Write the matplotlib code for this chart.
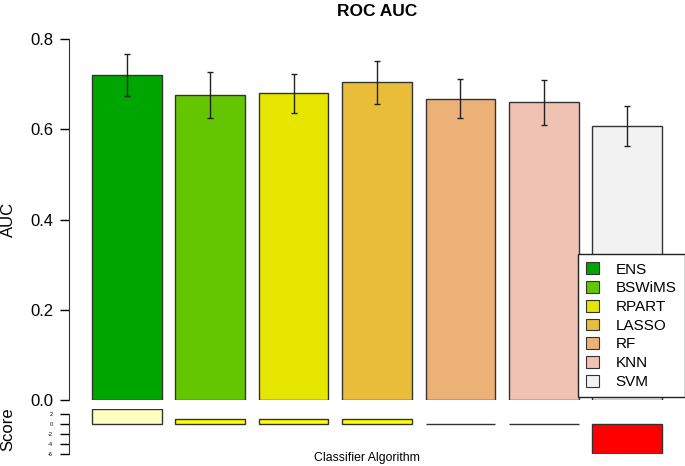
import matplotlib
matplotlib.use("Agg")
import matplotlib.pyplot as plt
from matplotlib.patches import Patch

plt.rcParams['font.family'] = ['Liberation Sans', 'DejaVu Sans']

# data
classifiers = ["ENS", "BSWiMS", "RPART", "LASSO", "RF", "KNN", "SVM"]
auc = [0.720, 0.676, 0.680, 0.704, 0.668, 0.660, 0.607]
auc_err = [0.047, 0.050, 0.043, 0.047, 0.043, 0.050, 0.045]
scores = [3, 1, 1, 1, 0, 0, -6]

# R terrain.colors(7)
bar_colors = ["#00A600", "#63C600", "#E6E600", "#E9BD3A", "#ECB176", "#EFC2B3", "#F2F2F2"]
score_colors = ["#FFFFBF", "#FFFF00", "#FFFF00", "#FFFF00", "#FFFFFF", "#FFFFFF", "#FF0000"]

W, H = 685, 466
fig = plt.figure(figsize=(W / 100, H / 100), dpi=100)

# barplot positions like R (width 1, space 0.2)
xpos = [0.2 + i * 1.2 + 0.5 for i in range(len(classifiers))]
px_per_unit = (662 - 92) / 8.2
xl = (0.2 - 23 / px_per_unit, 8.4 + 23 / px_per_unit)

left = 69 / W
ax = fig.add_axes([left, (H - 400) / H, 1 - left, 361 / H])
ax.bar(xpos, auc, width=1.0, color=bar_colors, edgecolor="#333333", linewidth=1)
ax.errorbar(xpos, auc, yerr=auc_err, fmt="none", ecolor="#222222", elinewidth=1,
            capsize=2.5, capthick=1)
ax.set_xlim(*xl)
ax.set_ylim(0, 0.8)
ax.set_yticks([0.0, 0.2, 0.4, 0.6, 0.8])
ax.set_yticklabels(["0.0", "0.2", "0.4", "0.6", "0.8"], fontsize=12)
ax.tick_params(axis="y", length=6.5, width=1, pad=5)
ax.set_xticks([])
for s in ["top", "right", "bottom"]:
    ax.spines[s].set_visible(False)
ax.spines["left"].set_color("#333333")
ax.set_ylabel("AUC", fontsize=12, va="center")
ax.yaxis.set_label_coords(-61 / (W - 69), 0.5)

fig.text(377 / W, 1 - 12 / H, "ROC AUC", ha="center", va="center",
         fontsize=12.5, fontweight="bold")

handles = [Patch(facecolor=c, edgecolor="#333333", linewidth=0.8) for c in bar_colors]
fig.legend(handles, classifiers, loc="upper left",
           bbox_to_anchor=(578 / W, 1 - 254 / H), borderaxespad=0,
           fontsize=11, frameon=True, fancybox=False, edgecolor="#222222",
           framealpha=1, handlelength=0.8, handleheight=0.8,
           labelspacing=0.3, handletextpad=1.1, borderpad=0.55)

# score panel
axs = fig.add_axes([left, (H - 454.3) / H, 1 - left, 45 / H])
axs.bar(xpos, scores, width=1.0, color=score_colors, edgecolor="#333333", linewidth=1)
axs.set_xlim(*xl)
axs.set_ylim(-6, 3)
axs.set_yticks([2, 0, -2, -4, -6])
axs.set_yticklabels(["2", "0", "-2", "-4", "-6"], fontsize=4)
axs.tick_params(axis="y", length=6.5, width=1, pad=5)
axs.set_xticks([])
for s in ["top", "right", "bottom"]:
    axs.spines[s].set_visible(False)
axs.spines["left"].set_bounds(-6, 2)
axs.spines["left"].set_color("#333333")
axs.set_ylabel("Score", fontsize=12, va="center")
axs.yaxis.set_label_coords(-61 / (W - 69), 0.55)

fig.text(367 / W, 1 - 458 / H, "Classifier Algorithm", ha="center", va="center",
         fontsize=8.8)

fig.savefig("out.png", dpi=100)
